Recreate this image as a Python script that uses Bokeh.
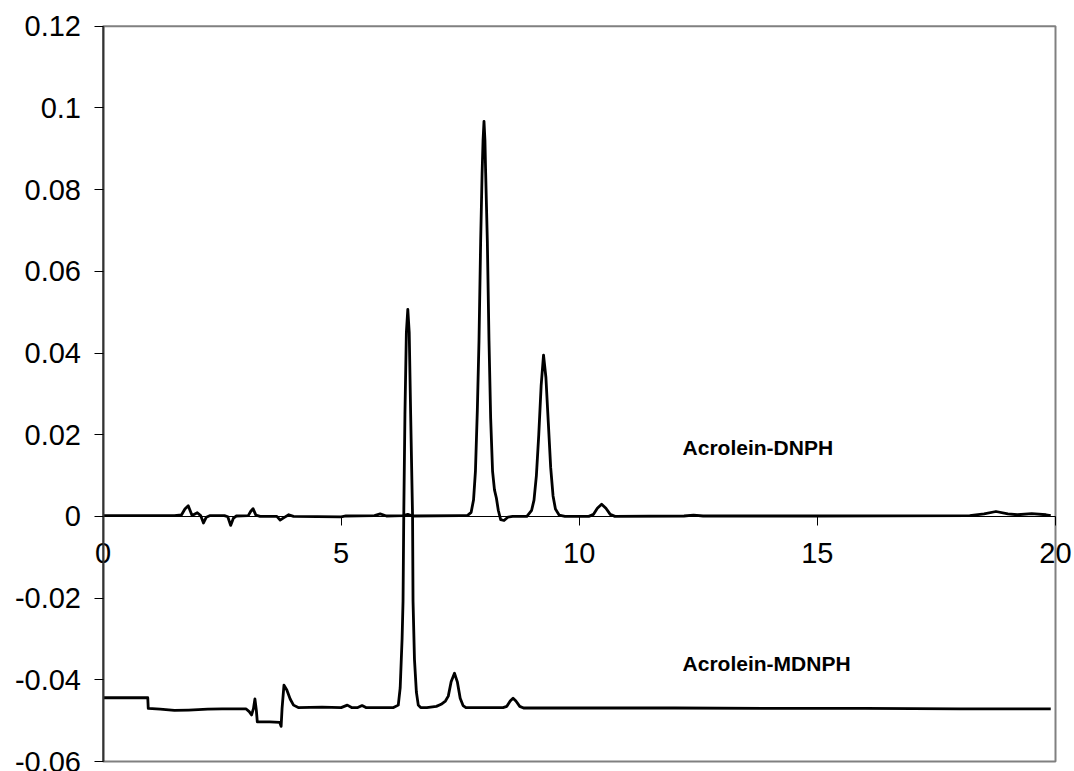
from bokeh.plotting import figure
from bokeh.models import Range1d, FixedTicker, CustomJSTickFormatter, BoxAnnotation
from bokeh.core.properties import value
from bokeh.embed import file_html
from bokeh.resources import INLINE

# Retention time (min) and absorbance
dnph_time = [0.0, 1.5, 1.65, 1.72, 1.79, 1.87, 1.98, 2.05, 2.11, 2.17, 2.25, 2.55, 2.62, 2.68,
             2.74, 2.8, 3.05, 3.1, 3.15, 3.21, 3.3, 3.65, 3.72, 3.8, 3.9, 4.0, 5.0, 5.1, 5.7,
             5.82, 5.95, 6.3, 6.4, 6.5, 7.5, 7.65, 7.73, 7.78, 7.82, 7.86, 7.895, 7.93, 7.96,
             7.98, 8.0, 8.02, 8.035, 8.07, 8.105, 8.14, 8.18, 8.22, 8.26, 8.3, 8.35, 8.42, 8.5,
             8.6, 8.9, 9.0, 9.05, 9.1, 9.15, 9.2, 9.25, 9.3, 9.35, 9.4, 9.45, 9.5, 9.58, 9.7,
             10.2, 10.3, 10.38, 10.47, 10.56, 10.65, 10.75, 12.2, 12.4, 12.6, 15.0, 18.2, 18.5,
             18.75, 19.0, 19.2, 19.5, 19.8, 19.9]
dnph_abs = [0.0002, 0.0002, 0.0004, 0.0018, 0.0026, 0.0002, 0.0009, 0.0002, -0.0016, -0.0002,
            0.0002, 0.0002, -0.0001, -0.0022, -0.0004, 0.0001, 0.0002, 0.0012, 0.0019, 0.0003,
            0.0, 0.0, -0.0009, -0.0003, 0.0004, 0.0, -0.0001, 0.0001, 0.0002, 0.0006, 0.0001,
            0.0002, 0.0005, 0.0001, 0.0002, 0.0002, 0.001, 0.004, 0.011, 0.026, 0.043, 0.0675,
            0.084, 0.092, 0.0967, 0.092, 0.084, 0.0675, 0.043, 0.024, 0.011, 0.0065, 0.0045,
            0.0015, -0.0008, -0.001, -0.0002, 0.0, 0.0, 0.0015, 0.004, 0.01, 0.02, 0.032,
            0.0395, 0.034, 0.023, 0.012, 0.005, 0.0018, 0.0003, 0.0, 0.0, 0.0005, 0.002, 0.003,
            0.002, 0.0005, 0.0, 0.0001, 0.0003, 0.0001, 0.0001, 0.0002, 0.0006, 0.0012, 0.0006,
            0.0004, 0.0007, 0.0004, 0.0002]

mdnph_time = [0.0, 0.94, 0.95, 1.2, 1.5, 1.8, 2.2, 2.5, 3.0, 3.07, 3.12, 3.16, 3.19, 3.22, 3.24,
              3.5, 3.71, 3.74, 3.76, 3.8, 3.86, 3.93, 4.0, 4.1, 4.6, 5.0, 5.13, 5.22, 5.35, 5.44,
              5.52, 6.1, 6.2, 6.24, 6.28, 6.3, 6.315, 6.34, 6.37, 6.4, 6.43, 6.46, 6.5, 6.51,
              6.54, 6.58, 6.62, 6.67, 6.8, 7.0, 7.1, 7.19, 7.25, 7.31, 7.38, 7.44, 7.5, 7.56,
              7.62, 8.0, 8.4, 8.48, 8.55, 8.61, 8.67, 8.75, 8.83, 10.0, 12.0, 14.0, 16.0, 18.0,
              19.9]
mdnph_abs = [-0.0444, -0.0444, -0.047, -0.0472, -0.0475, -0.0474, -0.0472, -0.0471, -0.0471,
             -0.0478, -0.0486, -0.047, -0.0447, -0.0475, -0.0503, -0.0503, -0.0504, -0.0514,
             -0.047, -0.0413, -0.0425, -0.0447, -0.0462, -0.0468, -0.0467, -0.0468, -0.0462,
             -0.0468, -0.0468, -0.0463, -0.0468, -0.0468, -0.0462, -0.042, -0.03, -0.0208, 0.0,
             0.025, 0.045, 0.0507, 0.045, 0.025, 0.0, -0.0208, -0.035, -0.043, -0.0462, -0.0468,
             -0.0468, -0.0465, -0.046, -0.0452, -0.044, -0.0405, -0.0384, -0.0405, -0.0445,
             -0.0463, -0.0468, -0.0468, -0.0468, -0.0465, -0.0452, -0.0445, -0.0452, -0.0465,
             -0.0469, -0.0469, -0.0469, -0.047, -0.047, -0.0471, -0.0471]

x_ticks = [0, 5, 10, 15, 20]
y_ticks = [-0.06, -0.04, -0.02, 0, 0.02, 0.04, 0.06, 0.08, 0.1, 0.12]
x_min, x_max = 0, 20
y_min, y_max = -0.06, 0.12

label_texts = ["Acrolein-DNPH", "Acrolein-MDNPH"]
label_x = [12.17, 12.17]
label_y = [0.0168, -0.0361]

FONT = "Liberation Sans"

# Frame covers the whole canvas; the plot area (0..20, -0.06..0.12) sits inside it
W, H = 1074, 771
area_left, area_right, area_top, area_bottom = 102.5, 1055.0, 25.7, 761.0
ppx = (area_right - area_left) / (x_max - x_min)
ppy = (area_bottom - area_top) / (y_max - y_min)
xr = Range1d(x_min - area_left / ppx, x_max + (W - area_right) / ppx)
yr = Range1d(y_min - (H - area_bottom) / ppy, y_max + area_top / ppy)

p = figure(width=W, height=H, output_backend="svg", toolbar_location=None,
           x_range=xr, y_range=yr,
           min_border_left=0, min_border_right=0, min_border_top=0, min_border_bottom=0)
p.title.visible = False
p.background_fill_color = "white"
p.border_fill_color = "white"
p.grid.visible = False
p.outline_line_color = None

# grey plot-area border
p.add_layout(BoxAnnotation(left=x_min, right=x_max, bottom=y_min, top=y_max,
                           fill_color=None, line_color="#808080", line_alpha=1.0,
                           line_width=2, level="underlay"))

# x axis crossing at y = 0
p.xaxis.fixed_location = 0
p.xaxis.bounds = (x_min, x_max)
p.xaxis.ticker = FixedTicker(ticks=x_ticks)
p.xaxis.axis_line_color = "black"
p.xaxis.axis_line_width = 1
p.xaxis.major_tick_line_color = "black"
p.xaxis.major_tick_out = 9
p.xaxis.major_tick_in = 0
p.xaxis.minor_tick_line_color = None
p.xaxis.major_label_text_font = FONT
p.xaxis.major_label_text_font_size = "29px"
p.xaxis.major_label_text_color = "black"
p.xaxis.major_label_standoff = 18

# y axis at x = 0
p.yaxis.fixed_location = 0
p.yaxis.bounds = (y_min, y_max)
p.yaxis.ticker = FixedTicker(ticks=y_ticks)
p.yaxis.formatter = CustomJSTickFormatter(code="""
    let s = tick.toFixed(2).replace(/0+$/, '').replace(/\\.$/, '');
    if (s === '-0') s = '0';
    return s;
""")
p.yaxis.axis_line_color = "#333333"
p.yaxis.axis_line_width = 2
p.yaxis.major_tick_line_color = "black"
p.yaxis.major_tick_out = 9
p.yaxis.major_tick_in = 0
p.yaxis.minor_tick_line_color = None
p.yaxis.major_label_text_font = FONT
p.yaxis.major_label_text_font_size = "29px"
p.yaxis.major_label_text_color = "black"
p.yaxis.major_label_standoff = 13

p.line(dnph_time, dnph_abs, line_color="black", line_width=2.8, line_join="round")
p.line(mdnph_time, mdnph_abs, line_color="black", line_width=2.8, line_join="round")

p.text(x=label_x, y=label_y, text=label_texts, text_font=value(FONT),
       text_font_style="bold", text_font_size="21px", text_color="black",
       text_align="left", text_baseline="middle")

open("out.html", "w").write(file_html(p, INLINE))
